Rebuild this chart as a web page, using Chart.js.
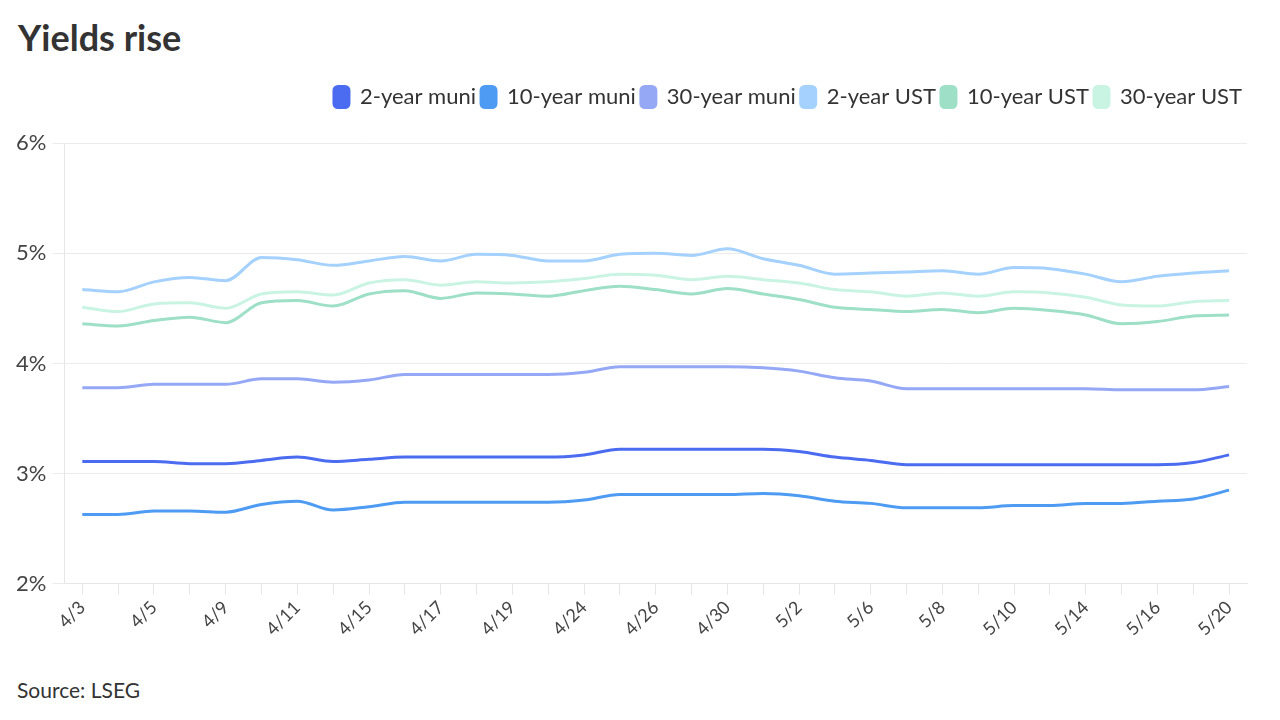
<!DOCTYPE html>
<html>
<head>
<meta charset="utf-8">
<script src="https://cdn.jsdelivr.net/npm/chart.js@4.4.1/dist/chart.umd.min.js"></script>
<style>
  body { margin: 0; background: #fff; font-family: Lato, sans-serif; }
  #wrap { position: relative; width: 1280px; height: 720px; overflow: hidden; }
  h1 { position: absolute; left: 18px; top: 16px; margin: 0; font-size: 36px; line-height: 1.2; font-weight: 700; color: #333; }
  #box { position: absolute; left: 0; top: 72px; width: 1280px; height: 570px; }
  #src { position: absolute; left: 17px; top: 677px; font-size: 21px; line-height: 1.2; color: #333; }
</style>
</head>
<body>
<div id="wrap">
  <h1>Yields rise</h1>
  <div id="box"><canvas id="chart" width="1280" height="570"></canvas></div>
  <div id="src">Source: LSEG</div>
</div>
<script>
const dates = ["4/3","4/4","4/5","4/8","4/9","4/10","4/11","4/12","4/15","4/16","4/17","4/18","4/19","4/22",
  "4/24","4/25","4/26","4/29","4/30","5/1","5/2","5/3","5/6","5/7","5/8","5/9","5/10","5/13","5/14","5/15",
  "5/16","5/17","5/20"];

const muni2 = [3.11,3.11,3.11,3.09,3.09,3.12,3.15,3.11,3.13,3.15,3.15,3.15,3.15,3.15,3.17,3.22,3.22,3.22,3.22,
  3.22,3.20,3.15,3.12,3.08,3.08,3.08,3.08,3.08,3.08,3.08,3.08,3.10,3.17];
const muni10 = [2.63,2.63,2.66,2.66,2.65,2.72,2.75,2.67,2.70,2.74,2.74,2.74,2.74,2.74,2.76,2.81,2.81,2.81,2.81,
  2.82,2.80,2.75,2.73,2.69,2.69,2.69,2.71,2.71,2.73,2.73,2.75,2.77,2.85];
const muni30 = [3.78,3.78,3.81,3.81,3.81,3.86,3.86,3.83,3.85,3.90,3.90,3.90,3.90,3.90,3.92,3.97,3.97,3.97,3.97,
  3.96,3.93,3.87,3.84,3.77,3.77,3.77,3.77,3.77,3.77,3.76,3.76,3.76,3.79];
const ust2 = [4.67,4.65,4.74,4.78,4.75,4.96,4.94,4.89,4.93,4.97,4.93,4.99,4.98,4.93,4.93,4.99,5.00,4.98,5.04,
  4.95,4.89,4.81,4.82,4.83,4.84,4.81,4.87,4.86,4.81,4.74,4.79,4.82,4.84];
const ust10 = [4.36,4.34,4.39,4.42,4.37,4.55,4.57,4.52,4.63,4.66,4.59,4.64,4.63,4.61,4.66,4.70,4.67,4.63,4.68,
  4.63,4.58,4.51,4.49,4.47,4.49,4.46,4.50,4.48,4.44,4.36,4.38,4.43,4.44];
const ust30 = [4.51,4.47,4.54,4.55,4.50,4.63,4.65,4.62,4.73,4.76,4.71,4.74,4.73,4.74,4.77,4.81,4.80,4.76,4.79,
  4.76,4.73,4.67,4.65,4.61,4.64,4.61,4.65,4.64,4.60,4.53,4.52,4.56,4.57];

const names = ["2-year muni","10-year muni","30-year muni","2-year UST","10-year UST","30-year UST"];
const colors = ["#4b6cf0","#4d9bf2","#94a8f6","#a4d1fd","#9ddfc7","#c9f4e4"];
const values = [muni2, muni10, muni30, ust2, ust10, ust30];

Chart.defaults.font.family = "Lato, sans-serif";

// push the plot down a bit below the legend
const legendGap = {
  id: "legendGap",
  beforeInit(chart) {
    const fit = chart.legend.fit;
    chart.legend.fit = function () {
      fit.bind(chart.legend)();
      this.height += 25;
    };
  }
};

new Chart(document.getElementById("chart").getContext("2d"), {
  type: "line",
  data: {
    labels: dates,
    datasets: names.map((n, i) => ({
      label: n,
      data: values[i],
      borderColor: colors[i],
      backgroundColor: colors[i],
      borderWidth: 3,
      pointRadius: 0,
      cubicInterpolationMode: "monotone",
      fill: false
    }))
  },
  options: {
    responsive: false,
    animation: false,
    layout: { padding: { left: 10, right: 33, top: 9, bottom: 0 } },
    plugins: {
      tooltip: { enabled: false },
      legend: {
        position: "top",
        align: "end",
        labels: {
          boxWidth: 15,
          boxHeight: 21,
          useBorderRadius: true,
          borderRadius: 4,
          padding: 5,
          color: "#333",
          font: { size: 22 }
        }
      }
    },
    scales: {
      x: {
        offset: true,
        grid: { drawOnChartArea: false, drawTicks: true, tickLength: 11, color: "#e6e6e6" },
        border: { color: "#e6e6e6" },
        ticks: {
          autoSkip: false,
          maxRotation: 45,
          minRotation: 45,
          padding: 2,
          color: "#444",
          font: { size: 18 },
          callback: (v, i) => (i % 2 === 0 ? dates[i] : "")
        }
      },
      y: {
        min: 2,
        max: 6,
        grid: { color: "#ebebeb", tickLength: 12 },
        border: { color: "#e6e6e6" },
        ticks: {
          stepSize: 1,
          padding: 6,
          color: "#444",
          font: { size: 22 },
          callback: v => v + "%"
        }
      }
    }
  },
  plugins: [legendGap]
});
</script>
</body>
</html>
